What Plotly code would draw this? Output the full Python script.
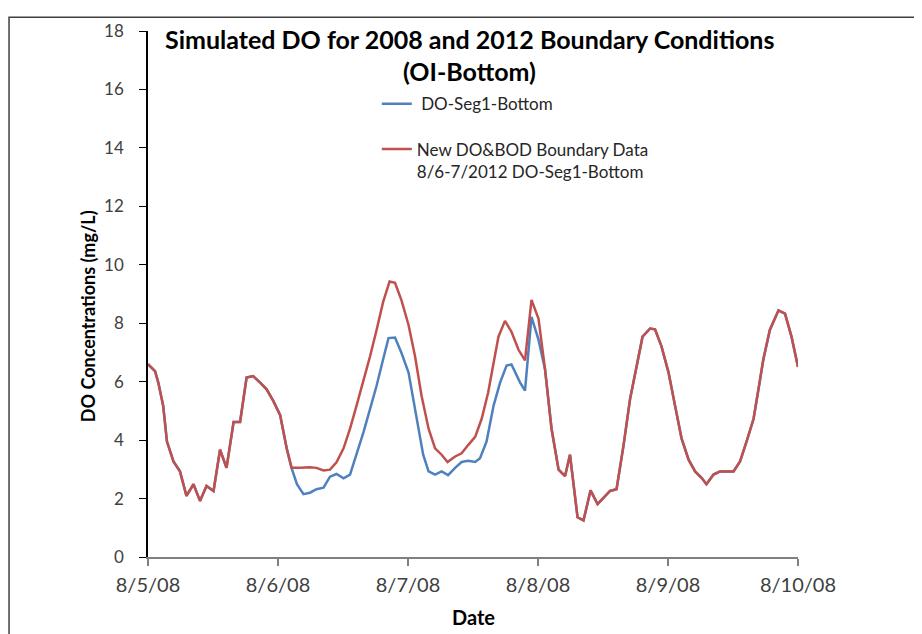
import pandas as pd
import plotly.graph_objects as go

# stunden ab 8/5/08 00:00 und DO-werte (mg/L)
start_h = [0, 1.3, 1.9, 2.8, 3.5, 4.7, 5.9, 7.1, 8.4, 9.6, 10.8, 12.1, 13.3, 14.5,
           15.8, 17.0, 18.2, 19.4, 20.7, 21.9, 23.1, 24.4, 25.6, 26.5]
start_do = [6.6, 6.36, 5.97, 5.18, 3.95, 3.27, 2.93, 2.09, 2.49, 1.92, 2.43, 2.26, 3.67, 3.05,
            4.62, 4.62, 6.14, 6.19, 5.97, 5.74, 5.35, 4.85, 3.72, 3.05]

# 2008 randbedingungen (blau)
blue_h = [27.5, 28.7, 29.9, 31.1, 32.4, 33.6, 34.8, 36.1, 37.3, 38.5, 39.8, 41.0, 42.2,
          43.4, 44.4, 45.6, 46.8, 48.1, 49.0, 49.9, 50.8, 51.8, 53.0, 54.2, 55.4, 56.7,
          57.9, 59.1, 60.4, 61.3, 62.5, 63.8, 65.0, 66.2, 67.1, 68.7, 69.6, 70.8, 72.1]
blue_do = [2.49, 2.15, 2.2, 2.32, 2.37, 2.75, 2.84, 2.69, 2.82, 3.5, 4.28, 5.07, 5.86,
           6.76, 7.49, 7.51, 6.98, 6.31, 5.41, 4.39, 3.5, 2.93, 2.82, 2.93, 2.8, 3.05,
           3.25, 3.29, 3.25, 3.38, 3.95, 5.18, 5.97, 6.55, 6.59, 5.97, 5.69, 8.22, 7.43]

# neue DO&BOD randdaten 2012 (rot)
red_h = [28.1, 29.9, 31.1, 32.4, 33.6, 34.8, 36.1, 37.3, 38.5, 39.8, 41.0, 42.2, 43.4,
         44.6, 45.6, 46.8, 48.1, 49.3, 50.5, 51.8, 53.0, 54.2, 55.3, 56.7, 57.9, 59.1,
         60.4, 61.6, 62.8, 63.8, 64.7, 65.9, 67.1, 68.4, 69.6, 70.8, 72.1]
red_do = [3.05, 3.07, 3.05, 2.96, 2.99, 3.24, 3.72, 4.39, 5.18, 6.03, 6.87, 7.77, 8.72,
          9.43, 9.38, 8.78, 7.94, 6.87, 5.52, 4.39, 3.72, 3.5, 3.25, 3.44, 3.55, 3.83,
          4.11, 4.73, 5.63, 6.64, 7.54, 8.08, 7.71, 7.09, 6.73, 8.8, 8.15]

end_h = [73.3, 74.5, 75.8, 77.0, 77.9, 79.3, 80.4, 81.7, 83.0, 84.1, 85.3, 86.5, 87.8,
         89.0, 90.2, 91.3, 92.7, 93.6, 94.8, 96.1, 97.3, 98.5, 99.8, 101.0, 102.2, 103.1,
         104.4, 105.6, 108.1, 109.3, 110.5, 111.8, 112.7, 113.6, 114.8, 116.4, 117.6,
         118.8, 120.0]
end_do = [6.42, 4.39, 2.99, 2.77, 3.5, 1.36, 1.25, 2.28, 1.81, 2.03, 2.26, 2.32, 3.83,
          5.41, 6.48, 7.54, 7.82, 7.79, 7.21, 6.31, 5.18, 4.06, 3.33, 2.93, 2.71, 2.49,
          2.82, 2.93, 2.93, 3.27, 3.95, 4.73, 5.74, 6.76, 7.77, 8.44, 8.33, 7.54, 6.5]

t0 = pd.Timestamp("2008-08-05")
def to_time(hours):
    return t0 + pd.to_timedelta(hours, unit="h")

fig = go.Figure()
fig.add_trace(go.Scatter(x=to_time(start_h + blue_h + end_h), y=start_do + blue_do + end_do,
                         mode="lines", name="\u00a0DO-Seg1-Bottom", legendgroup="a",
                         line=dict(color="#4F81BD", width=2.5)))
fig.add_trace(go.Scatter(x=to_time(start_h + red_h + end_h), y=start_do + red_do + end_do,
                         mode="lines", name="New DO&BOD Boundary Data<br>8/6-7/2012 DO-Seg1-Bottom",
                         legendgroup="b", line=dict(color="#C0504D", width=2.5)))

# die seite hat 8px body-rand, daher alles um 8px nach links/oben
fig.update_layout(
    width=922, height=634,
    margin=dict(l=140, r=132, t=15, b=85),
    paper_bgcolor="white", plot_bgcolor="white",
    font=dict(family="Lato", size=15, color="#404040"),
    legend=dict(x=0.352, y=0.895, xanchor="left", yanchor="top", valign="top",
                bgcolor="rgba(0,0,0,0)", tracegroupgap=20, traceorder="grouped",
                font=dict(size=17, color="#262626")),
    showlegend=True,
)

fig.update_xaxes(range=[t0, t0 + pd.Timedelta(days=5)], dtick=86400000, tickformat="%-m/%-d/%y",
                 showgrid=False, zeroline=False, showline=True, linecolor="#808080", linewidth=2,
                 ticks="outside", ticklen=7, tickcolor="#808080", tickwidth=1.5,
                 ticklabelstandoff=2, tickfont=dict(size=20))
fig.update_yaxes(range=[0, 18], dtick=2, showgrid=False, zeroline=False, showline=True,
                 linecolor="black", linewidth=1.5, ticks="outside", ticklen=7, tickcolor="black",
                 ticklabelstandoff=12, tickfont=dict(size=17))

# titel und achsenbeschriftungen
fig.add_annotation(text="<b>Simulated DO for 2008 and 2012 Boundary Conditions</b>",
                   x=0.495, y=(549 - 23) / 534, xref="paper", yref="paper",
                   xanchor="center", yanchor="middle", showarrow=False,
                   font=dict(size=25, color="black"))
fig.add_annotation(text="<b>(OI-Bottom)</b>", x=0.495, y=(549 - 56) / 534, xref="paper", yref="paper",
                   xanchor="center", yanchor="middle", showarrow=False,
                   font=dict(size=25, color="black"))
fig.add_annotation(text="<b>DO Concentrations (mg/L)</b>", x=-0.093, y=0.457, xref="paper", yref="paper",
                   xanchor="center", yanchor="middle",
                   textangle=-90, showarrow=False, font=dict(size=18, color="black"))
fig.add_annotation(text="<b>Date</b>", x=0.5, y=-0.114, xref="paper", yref="paper",
                   xanchor="center", yanchor="middle",
                   showarrow=False, font=dict(size=20, color="black"))

# rahmen um das diagramm
fig.add_shape(type="rect", xref="paper", yref="paper", x0=-0.2138, x1=1.25, y0=-0.25, y1=1.0262,
              line=dict(color="#404040", width=1.5))

fig.write_html("out.html")
